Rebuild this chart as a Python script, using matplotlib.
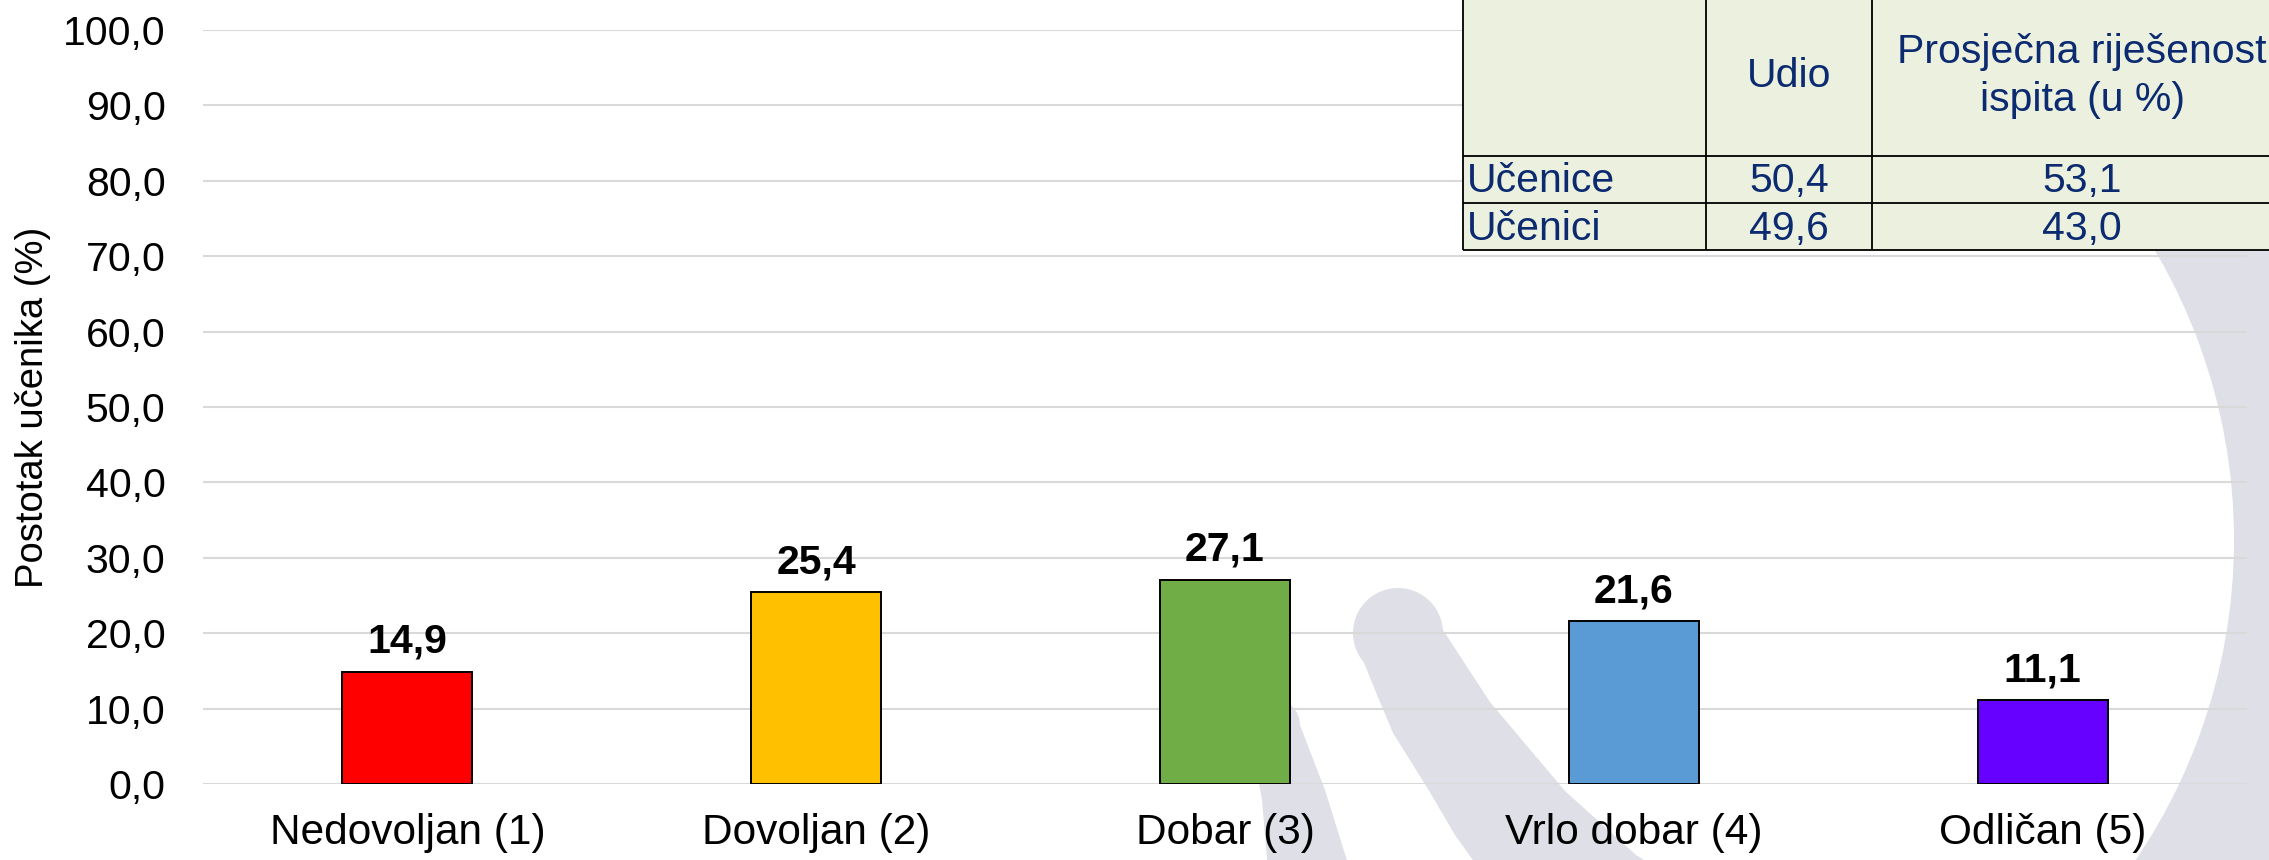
import matplotlib
matplotlib.use("Agg")
import matplotlib.pyplot as plt
from matplotlib.patches import Rectangle, Polygon, Wedge, Circle

# ---------------- data ----------------
categories = ["Nedovoljan (1)", "Dovoljan (2)", "Dobar (3)", "Vrlo dobar (4)", "Odličan (5)"]
values = [14.9, 25.4, 27.1, 21.6, 11.1]
bar_colors = ["#FF0000", "#FFC000", "#70AD47", "#5B9BD5", "#6600FF"]
y_ticks = [0, 10, 20, 30, 40, 50, 60, 70, 80, 90, 100]
y_label = "Postotak učenika (%)"

table_header = ["", "Udio", "Prosječna riješenost\nispita (u %)"]
table_rows = ["Učenice", "Učenici"]
table_udio = ["50,4", "49,6"]
table_rijesenost = ["53,1", "43,0"]

def fmt(v):
    return f"{v:.1f}".replace(".", ",")

# ---------------- figure ----------------
W, H = 2269, 860
DPI = 100
plt.rcParams["font.family"] = ["Liberation Sans", "DejaVu Sans"]
fig = plt.figure(figsize=(W / DPI, H / DPI), dpi=DPI)
fig.patch.set_facecolor("white")

# background axes for watermark (pixel coordinates)
bg = fig.add_axes([0, 0, 1, 1], zorder=0)
bg.set_xlim(0, W)
bg.set_ylim(H, 0)
bg.axis("off")
wm = "#DFE0E7"
# large ring on the right
bg.add_patch(Wedge((1664, 540), 740, -80, 80, width=170, facecolor=wm, edgecolor="none"))
# tapered stroke
stroke_a = [(1353, 635), (1375, 690), (1393, 733), (1428, 789), (1455, 835), (1480, 870),
            (1660, 870), (1636, 855), (1565, 791), (1490, 702), (1443, 630)]
bg.add_patch(Polygon(stroke_a, closed=True, facecolor=wm, edgecolor="none"))
bg.add_patch(Circle((1398, 633), 45, facecolor=wm, edgecolor="none"))
# left faint band
stroke_c = [(1250, 735), (1262, 800), (1268, 870), (1350, 870), (1325, 790), (1298, 720)]
bg.add_patch(Polygon(stroke_c, closed=True, facecolor=wm, edgecolor="none"))
bg.add_patch(Circle((1274, 725), 26, facecolor=wm, edgecolor="none"))

# main axes
left, right, top, bottom = 203, 2247, 30, 784
ax = fig.add_axes([left / W, 1 - bottom / H, (right - left) / W, (bottom - top) / H], zorder=2)
ax.set_facecolor("none")
x = list(range(len(categories)))
ax.bar(x, values, width=0.318, color=bar_colors, edgecolor="black", linewidth=1.4, zorder=3)
ax.set_xlim(-0.5, len(categories) - 0.5)
ax.set_ylim(0, 100)
ax.set_yticks(y_ticks)
ax.set_yticklabels([fmt(v) for v in y_ticks], fontsize=29.5)
ax.set_xticks(x)
ax.set_xticklabels(categories, fontsize=30.5)
ax.tick_params(axis="y", length=0, pad=27)
ax.tick_params(axis="x", length=0, pad=21)
ax.grid(axis="y", color="#D9D9D9", linewidth=1.5, zorder=1)
ax.set_axisbelow(True)
for s in ax.spines.values():
    s.set_visible(False)
for xi, v in zip(x, values):
    ax.annotate(fmt(v), (xi, v), xytext=(0, 13.5), textcoords="offset points",
                ha="center", va="baseline", fontsize=29.5, fontweight="bold", color="black", zorder=4)

fig.text(33 / W, 1 - 407 / H, y_label, rotation=90, ha="center", va="center", fontsize=27.5)

# overlay axes for the table
ov = fig.add_axes([0, 0, 1, 1], zorder=5)
ov.set_xlim(0, W)
ov.set_ylim(H, 0)
ov.axis("off")
ov.patch.set_alpha(0)
col_edges = [1463, 1706, 1872, 2292]
row_edges = [-2, 156, 203, 250]
navy = "#0B2A6F"
ov.add_patch(Rectangle((col_edges[0], row_edges[0]), col_edges[-1] - col_edges[0],
                       row_edges[-1] - row_edges[0], facecolor="#EBF1DE", edgecolor="none"))
for cx in col_edges:
    ov.plot([cx, cx], [row_edges[0], row_edges[-1]], color="black", lw=1.3, solid_capstyle="butt")
for ry in row_edges:
    ov.plot([col_edges[0], col_edges[-1]], [ry, ry], color="black", lw=1.3, solid_capstyle="butt")

tfs = 29.5
# header
cx2 = (col_edges[1] + col_edges[2]) / 2
cx3 = (col_edges[2] + col_edges[3]) / 2
ov.text(cx2, 87, table_header[1], ha="center", va="baseline", fontsize=tfs, color=navy)
for i, line in enumerate(table_header[2].split("\n")):
    ov.text(cx3, 63 + 48 * i, line, ha="center", va="baseline", fontsize=tfs, color=navy)
# rows
baselines = [192, 240]
for r, (name, u, p) in enumerate(zip(table_rows, table_udio, table_rijesenost)):
    ov.text(col_edges[0] + 4, baselines[r], name, ha="left", va="baseline", fontsize=tfs, color=navy)
    ov.text(cx2, baselines[r], u, ha="center", va="baseline", fontsize=tfs, color=navy)
    ov.text(cx3, baselines[r], p, ha="center", va="baseline", fontsize=tfs, color=navy)

fig.savefig("out.png", dpi=DPI)
